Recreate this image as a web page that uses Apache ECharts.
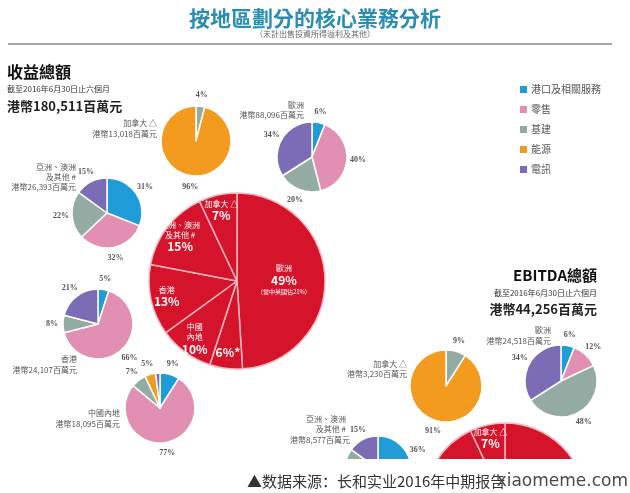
<!DOCTYPE html>
<html><head><meta charset="utf-8">
<script src="https://cdn.jsdelivr.net/npm/echarts@6/dist/echarts.min.js"></script>
<style>html,body{margin:0;padding:0;background:#fff}#c{width:630px;height:493px}</style>
</head><body><div id="c"></div>
<script>
// ---- data ----
const segments = ['港口及相關服務','零售','基建','能源','電訊'];
// share of each segment (%) within a region, in segment order
const revEurope = [6,40,20,0,34];
const revCanada = [0,0,4,96,0];
const revAsia   = [31,32,22,0,15];
const revHK     = [5,66,8,0,21];
const revChina  = [9,77,7,5,2];
const ebEurope  = [6,12,48,0,34];
const ebCanada  = [0,0,9,91,0];
const ebAsia    = [36,25,24,0,15];
// region split of the totals (%)
const regionNames  = ['歐洲','其他','中國內地','香港','亞洲、澳洲及其他','加拿大'];
const regionLabels = ['歐洲','','中國\n內地','香港','亞洲、澳洲\n及其他 #','加拿大 △'];
const revRegionShare = [49,6,10,13,15,7];
const ebRegionShare  = [55,3,6,10,19,7];
// amounts, HK$ millions
const revTotal = 180511, ebTotal = 44256;
const revAmounts = {europe:88096, canada:13018, asia:26393, hk:24107, china:18095};
const ebAmounts  = {europe:24518, canada:3230, asia:8577};

// ---- style ----
const segColors = ['#1f9bd7','#e190b4','#94aba4','#f39b1f','#7b6cb5'];
const RED = '#d5142b';
const pctFont = 'Liberation Serif';
const cjk = 'Noto Sans CJK TC';
const fmt = n => '港幣' + n.toLocaleString('en-US') + '百萬元';

function segData(values) {
  return values.map((v,i)=>({value:v, name:segments[i], itemStyle:{color:segColors[i]}}))
               .filter(d=>d.value>0);
}
function smallPie(values, center, r) {
  return [{
    type:'pie', center:center, radius:r, startAngle:90, avoidLabelOverlap:false,
    animation:false, silent:true,
    itemStyle:{borderColor:'#fff', borderWidth:1.5},
    label:{show:false}, labelLine:{show:false},
    data: segData(values)
  }, {
    // transparent ring used only to place the percentage labels just outside the pie
    type:'pie', center:center, radius:[r, r+16], startAngle:90, avoidLabelOverlap:false,
    animation:false, silent:true, legendHoverLink:false,
    itemStyle:{color:'rgba(0,0,0,0)', borderWidth:0},
    label:{show:true, position:'inner', formatter:'{c}%', fontSize:8, fontWeight:'bold',
           color:'#555', fontFamily:pctFont},
    labelLine:{show:false},
    data: segData(values).map(d=>({value:d.value, name:d.name + ' ', itemStyle:{color:'rgba(0,0,0,0)'}}))
  }];
}
function regionPie(values, center, r) {
  return {
    type:'pie', center:center, radius:r, startAngle:90, avoidLabelOverlap:false,
    animation:false, silent:true,
    itemStyle:{color:RED, borderColor:'#f4b6c0', borderWidth:1.5},
    label:{show:false}, labelLine:{show:false},
    data: values.map((v,i)=>({value:v, name:regionNames[i]}))
  };
}
function regionLabelPie(values, center, r, showMask) {
  return {
    type:'pie', center:center, radius:r, startAngle:90, avoidLabelOverlap:false,
    animation:false, silent:true,
    itemStyle:{color:'rgba(0,0,0,0)', borderWidth:0},
    labelLine:{show:false},
    label:{show:true, position:'inner', color:'#fff', fontFamily:cjk,
      formatter: p => {
        const lab = regionLabels[p.dataIndex];
        return (lab ? '{n|' + lab.split('\n').join('}\n{n|') + '}\n' : '') + '{p|' + p.value + '%' + (lab ? '' : '*') + '}';
      },
      rich:{n:{fontSize:8, color:'#fff', fontFamily:cjk, lineHeight:10},
            p:{fontSize:12, fontWeight:'bold', color:'#fff', fontFamily:cjk, lineHeight:14}}},
    data: values.map((v,i)=>({value:v, name:regionNames[i], label:{show:showMask[i]}}))
  };
}
function euroLabelSeries(values, center, r, note) {
  return {
    type:'pie', center:center, radius:r, startAngle:90, avoidLabelOverlap:false,
    animation:false, silent:true,
    itemStyle:{color:'rgba(0,0,0,0)', borderWidth:0},
    labelLine:{show:false},
    label:{show:true, position:'inner', fontFamily:cjk,
      formatter: p => '{n|' + regionLabels[0] + '}\n{p|' + p.value + '%}' + (note ? '\n{s|' + note + '}' : ''),
      rich:{n:{fontSize:8, color:'#fff', lineHeight:11, fontFamily:cjk},
            p:{fontSize:12, fontWeight:'bold', color:'#fff', lineHeight:14, fontFamily:cjk},
            s:{fontSize:6, color:'#fff', lineHeight:9, fontFamily:cjk}}},
    data: values.map((v,i)=>({value:v, name:regionNames[i], label:{show:i===0}}))
  };
}

const othersMask = regionNames.map((_,i)=>i!==0);
const canadaMask = regionNames.map((_,i)=>i===5);

const series = [
  regionPie(revRegionShare, [237,281], 88),
  euroLabelSeries(revRegionShare, [237,281], 88, '(當中英國佔21%)'),
  regionLabelPie(revRegionShare, [237,281], [44,94], othersMask),
  regionPie(ebRegionShare, [505,504], 81),
  regionLabelPie(ebRegionShare, [505,504], [42,86], canadaMask),
  ...smallPie(revCanada, [196,141], 35),
  ...smallPie(revEurope, [312,157], 35),
  ...smallPie(revAsia,   [107,213], 35),
  ...smallPie(revHK,     [98,324], 35),
  ...smallPie(revChina,  [160,408], 35),
  ...smallPie(ebEurope,  [561,381], 36),
  ...smallPie(ebCanada,  [446,386], 36),
  ...smallPie(ebAsia,    [378,469], 33)
];

function txt(x, y, text, opt) {
  opt = opt || {};
  return {type:'text', x:x, y:y, z:opt.z || 50, silent:true,
    style:{text:text, fill:opt.color || '#555', fontSize:opt.size || 8,
      fontWeight:opt.weight || 'normal', fontFamily:opt.font || cjk,
      textAlign:opt.align || 'right', textVerticalAlign:'middle'}};
}

const graphics = [
  txt(315, 18, '按地區劃分的核心業務分析', {color:'#2b8db0', size:21, weight:'bold', align:'center'}),
  txt(315, 34, '（未計出售投資所得溢利及其他）', {color:'#666', size:8, align:'center'}),
  {type:'line', silent:true, shape:{x1:8, y1:44, x2:612, y2:44}, style:{stroke:'#8a8a8a', lineWidth:1.5}},
  txt(7, 72, '收益總額', {color:'#111', size:16, weight:'bold', align:'left'}),
  txt(7, 89, '截至2016年6月30日止六個月', {color:'#333', size:8, align:'left'}),
  txt(7, 106, fmt(revTotal), {color:'#222', size:13, weight:'bold', align:'left'}),
  txt(597, 275, 'EBITDA總額', {color:'#111', size:15, weight:'bold'}),
  txt(597, 293, '截至2016年6月30日止六個月', {color:'#333', size:8}),
  txt(597, 309, fmt(ebTotal), {color:'#222', size:13, weight:'bold'}),
  // region name labels - revenue
  txt(157, 123, '加拿大 △'), txt(157, 134, fmt(revAmounts.canada)),
  txt(304, 105, '歐洲'), txt(304, 115, fmt(revAmounts.europe)),
  txt(76, 167, '亞洲、澳洲'), txt(76, 177, '及其他 #'), txt(76, 187, fmt(revAmounts.asia)),
  txt(77, 359, '香港'), txt(77, 370, fmt(revAmounts.hk)),
  txt(120, 413, '中國內地'), txt(120, 424, fmt(revAmounts.china)),
  // region name labels - EBITDA
  txt(551, 330, '歐洲'), txt(551, 341, fmt(ebAmounts.europe)),
  txt(407, 364, '加拿大 △'), txt(407, 374, fmt(ebAmounts.canada)),
  txt(346, 419, '亞洲、澳洲'), txt(346, 429, '及其他 #'), txt(350, 440, fmt(ebAmounts.asia)),
  // white band at bottom
  {type:'rect', z:40, silent:true, shape:{x:0, y:459, width:630, height:34}, style:{fill:'#fff'}},
  txt(247, 481, '▲数据来源：长和实业2016年中期报告', {color:'#333', size:15, align:'left', font:'Noto Sans CJK SC', z:60}),
  txt(628, 482, 'xiaomeme.com', {color:'#4a4a4a', size:17, align:'right', font:'DejaVu Sans', z:61})
];

const chart = echarts.init(document.getElementById('c'), null, {renderer:'canvas'});
chart.setOption({
  animation:false,
  backgroundColor:'#fff',
  legend:{
    data:segments, orient:'vertical', left:513, top:79, itemWidth:9, itemHeight:9, itemGap:9,
    icon:'rect', selectedMode:false,
    textStyle:{fontSize:10, color:'#555', fontFamily:cjk, padding:[0,0,0,-2]}
  },
  series:series,
  graphic:{elements:graphics}
});
</script></body></html>
